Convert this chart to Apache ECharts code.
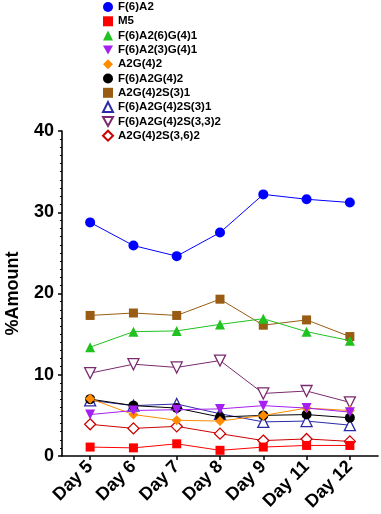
<!DOCTYPE html>
<html>
<head>
<meta charset="utf-8">
<script src="https://cdn.jsdelivr.net/npm/echarts@6/dist/echarts.min.js"></script>
<style>
  html, body { margin: 0; padding: 0; background: #fff; }
  #glycanChart { width: 381px; height: 514px; }
</style>
</head>
<body>
<div id="glycanChart"></div>
<script>
// 横轴天数
const days = ['Day 5', 'Day 6', 'Day 7', 'Day 8', 'Day 9', 'Day 11', 'Day 12']
const yTicks = [0, 10, 20, 30, 40]

// 各聚糖的 %Amount
const f6a2 = [28.75, 25.9, 24.6, 27.5, 32.2, 31.6, 31.2]
const m5 = [1.1, 1.0, 1.5, 0.7, 1.1, 1.3, 1.3]
const f6a2_6g41 = [13.4, 15.3, 15.4, 16.2, 16.9, 15.3, 14.2]
const f6a2_3g41 = [5.1, 5.6, 5.7, 5.8, 6.2, 5.9, 5.4]
const a2g42 = [7.05, 5.1, 4.4, 4.3, 5.0, 5.9, 5.6]
const f6a2g42 = [7.0, 6.2, 5.9, 4.8, 5.0, 5.1, 4.7]
const a2g42s31 = [17.3, 17.6, 17.3, 19.3, 16.1, 16.75, 14.7]
const f6a2g42s31 = [6.85, 6.2, 6.4, 5.2, 4.2, 4.3, 3.8]
const f6a2g42s332 = [10.2, 11.3, 10.9, 11.75, 7.7, 8.0, 6.6]
const a2g42s362 = [3.9, 3.4, 3.65, 2.75, 1.9, 2.1, 1.8]

const downTri = 'path://M0,0L20,0L10,18Z'
const offset = 0.65 // 第一个点离 y 轴的距离（单位：类别）

const seriesDefs = [
  { name: 'F(6)A2', data: f6a2, color: '#0000ff', symbol: 'circle', size: 10 },
  { name: 'M5', data: m5, color: '#ff0000', symbol: 'rect', size: 9 },
  { name: 'F(6)A2(6)G(4)1', data: f6a2_6g41, color: '#1fc21f', symbol: 'triangle', size: 10 },
  { name: 'F(6)A2(3)G(4)1', data: f6a2_3g41, color: '#a51ff0', symbol: downTri, size: 10 },
  { name: 'A2G(4)2', data: a2g42, color: '#ff8c00', symbol: 'diamond', size: 10 },
  { name: 'F(6)A2G(4)2', data: f6a2g42, color: '#000000', symbol: 'circle', size: 10 },
  { name: 'A2G(4)2S(3)1', data: a2g42s31, color: '#9a5c12', symbol: 'rect', size: 9 },
  { name: 'F(6)A2G(4)2S(3)1', data: f6a2g42s31, color: '#2a2aa8', symbol: 'triangle', size: 11, hollow: true },
  { name: 'F(6)A2G(4)2S(3,3)2', data: f6a2g42s332, color: '#7a2a6e', symbol: downTri, size: 11, hollow: true },
  { name: 'A2G(4)2S(3,6)2', data: a2g42s362, color: '#cc0000', symbol: 'diamond', size: 11, hollow: true }
]

const chart = echarts.init(document.getElementById('glycanChart'))

const boldFont = { fontFamily: 'Liberation Sans, Arial, sans-serif', fontWeight: 'bold', fontSize: 18, color: '#000' }

const option = {
  animation: false,
  legend: {
    orient: 'vertical',
    left: 102,
    top: 1,
    padding: 0,
    itemWidth: 10,
    itemHeight: 10,
    itemGap: 2.3,
    textStyle: { fontFamily: 'Liberation Sans, Arial, sans-serif', fontSize: 11.5, fontWeight: 'bold', color: '#000' },
    data: seriesDefs.map(s => ({ name: s.name, icon: s.symbol }))
  },
  grid: { left: 62, right: 3, top: 131, bottom: 58, containLabel: false, outerBoundsMode: 'none' },
  xAxis: {
    type: 'value',
    min: 0,
    max: 7.3,
    splitLine: { show: false },
    axisLine: { lineStyle: { color: '#000', width: 1.6 } },
    axisTick: {
      show: true,
      length: 4,
      lineStyle: { color: '#000', width: 1.5 },
      customValues: days.map((d, i) => i + offset)
    },
    axisLabel: {
      ...boldFont,
      rotate: 45,
      margin: 8,
      customValues: days.map((d, i) => i + offset),
      formatter: v => days[Math.round(v - offset)]
    }
  },
  yAxis: {
    type: 'value',
    min: yTicks[0],
    max: yTicks[yTicks.length - 1],
    interval: 10,
    name: '%Amount',
    nameLocation: 'middle',
    nameGap: 40,
    nameRotate: 90,
    nameTextStyle: boldFont,
    splitLine: { show: false },
    axisLine: { show: true, lineStyle: { color: '#000', width: 1.6 } },
    axisTick: { show: true, length: 4, lineStyle: { color: '#000', width: 1.5 } },
    minorTick: { show: true, splitNumber: 10, length: 2, lineStyle: { color: '#000', width: 1 } },
    axisLabel: { ...boldFont, margin: 8 }
  },
  series: seriesDefs.map((s, idx) => ({
    name: s.name,
    type: 'line',
    z: 20 - idx,
    symbol: s.symbol,
    symbolSize: s.size,
    data: s.data.map((v, i) => [i + offset, v]),
    lineStyle: { color: s.color, width: 1 },
    itemStyle: s.hollow
      ? { color: '#fff', borderColor: s.color, borderWidth: 1.3 }
      : { color: s.color, borderWidth: 0 },
    emphasis: { disabled: true }
  }))
}

chart.setOption(option)
</script>
</body>
</html>
